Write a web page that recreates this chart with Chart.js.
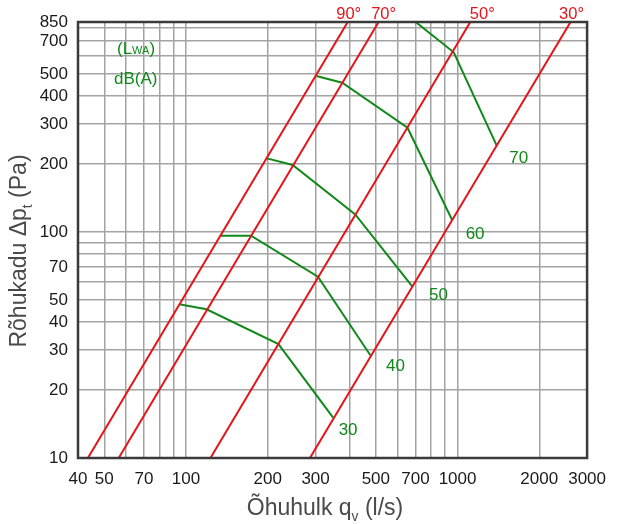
<!DOCTYPE html>
<html>
<head>
<meta charset="utf-8">
<script src="https://cdn.jsdelivr.net/npm/chart.js@4.4.1/dist/chart.umd.min.js"></script>
<style>
  body { margin: 0; background: #fff; }
  canvas { display: block; }
</style>
</head>
<body>
<canvas id="chart" width="617" height="524"></canvas>
<script>
// axis ticks (labelled) and grid values
const flowTicks = [40, 50, 70, 100, 200, 300, 500, 700, 1000, 2000, 3000];
const flowGrid = [40, 50, 60, 70, 80, 90, 100, 200, 300, 400, 500, 600, 700, 800, 900, 1000, 2000, 3000];
const pressureTicks = [10, 20, 30, 40, 50, 70, 100, 200, 300, 400, 500, 700, 850];
const pressureGrid = [10, 20, 30, 40, 50, 60, 70, 80, 90, 100, 200, 300, 400, 500, 600, 700, 800, 850];

// damper angle lines (red), end points at 10 Pa and 850 Pa
const angleNames = ['90°', '70°', '50°', '30°'];
const anglePressure = [10, 850];
const angle90Flow = [43.5, 394];
const angle70Flow = [56.5, 512];
const angle50Flow = [123, 1114];
const angle30Flow = [286, 2607];

// sound power lines (green), dB(A)
const noiseNames = ['30', '40', '50', '60', '70'];
const noise30Flow = [94.4, 119, 219, 348];
const noise30Pressure = [47.9, 45.5, 31.9, 15.1];
const noise40Flow = [134, 173.5, 306, 478];
const noise40Pressure = [96.3, 96.3, 63.4, 28.4];
const noise50Flow = [198.5, 247, 420, 682];
const noise50Pressure = [211.8, 197.9, 119.7, 57.3];
const noise60Flow = [302, 376, 654, 955];
const noise60Pressure = [490, 457.7, 289.3, 113];
const noise70Flow = [701, 968, 1394];
const noise70Pressure = [850, 624, 241];

const RED = '#e4141b';
const GREEN = '#11891a';
const FONT = "'Liberation Sans', Arial, sans-serif";

function toPoints(xs, ys) {
  return xs.map((x, i) => ({ x, y: ys[i] }));
}

const angleFlows = [angle90Flow, angle70Flow, angle50Flow, angle30Flow];
const noiseFlows = [noise30Flow, noise40Flow, noise50Flow, noise60Flow, noise70Flow];
const noisePressures = [noise30Pressure, noise40Pressure, noise50Pressure, noise60Pressure, noise70Pressure];

const datasets = [];
angleFlows.forEach((f, i) => {
  datasets.push({ label: angleNames[i], data: toPoints(f, anglePressure), borderColor: RED });
});
noiseFlows.forEach((f, i) => {
  datasets.push({ label: noiseNames[i] + ' dB(A)', data: toPoints(f, noisePressures[i]), borderColor: GREEN });
});
datasets.forEach(d => {
  d.showLine = true;
  d.pointRadius = 0;
  d.borderWidth = 2;
  d.tension = 0;
});

// draws text pieces centred on x, some of them as subscript
function drawParts(ctx, parts, x, y, size) {
  let total = 0;
  parts.forEach(p => {
    ctx.font = (p.sub ? size * 0.6 : size) + 'px ' + FONT;
    p.w = ctx.measureText(p.t).width;
    total += p.w;
  });
  let cx = x - total / 2;
  parts.forEach(p => {
    ctx.font = (p.sub ? size * 0.6 : size) + 'px ' + FONT;
    ctx.fillText(p.t, cx, p.sub ? y + size * 0.28 : y);
    cx += p.w;
  });
}

const labelsPlugin = {
  id: 'labels',
  afterDatasetsDraw(chart) {
    const { ctx, chartArea: a, scales: { x, y } } = chart;
    ctx.save();
    // frame
    ctx.strokeStyle = '#3a3a3a';
    ctx.lineWidth = 2.5;
    ctx.strokeRect(a.left, a.top, a.right - a.left, a.bottom - a.top);

    // angle labels above the plot
    const angleShift = [1, 5, 12, 1];
    ctx.fillStyle = RED;
    ctx.textAlign = 'center';
    ctx.textBaseline = 'middle';
    ctx.font = '16.5px ' + FONT;
    angleFlows.forEach((f, i) => {
      ctx.fillText(angleNames[i], x.getPixelForValue(f[1]) + angleShift[i], 14);
    });

    // noise labels at end of each green line
    const noiseShift = [[15, 13], [25, 11], [26, 9], [23, 14], [22, 13]];
    ctx.fillStyle = GREEN;
    ctx.font = '17px ' + FONT;
    noiseFlows.forEach((f, i) => {
      const p = noisePressures[i];
      const px = x.getPixelForValue(f[f.length - 1]);
      const py = y.getPixelForValue(p[p.length - 1]);
      ctx.fillText(noiseNames[i], px + noiseShift[i][0], py + noiseShift[i][1]);
    });

    // (LWA) dB(A)
    ctx.textAlign = 'left';
    ctx.textBaseline = 'alphabetic';
    let lx = 117;
    ctx.fillText('(L', lx, 54);
    lx += ctx.measureText('(L').width;
    ctx.font = '11px ' + FONT;
    ctx.fillText('WA', lx, 54);
    lx += ctx.measureText('WA').width;
    ctx.font = '17px ' + FONT;
    ctx.fillText(')', lx, 54);
    ctx.fillText('dB(A)', 114, 84);

    // axis titles
    ctx.fillStyle = '#4a4a4a';
    drawParts(ctx, [{ t: 'Õhuhulk q' }, { t: 'v', sub: true }, { t: ' (l/s)' }], 325, 515, 23);
    ctx.translate(26, 251);
    ctx.rotate(-Math.PI / 2);
    drawParts(ctx, [{ t: 'Rõhukadu Δp' }, { t: 't', sub: true }, { t: ' (Pa)' }], 0, 0, 23);
    ctx.restore();
  }
};

const tickFont = { family: FONT, size: 17 };

new Chart(document.getElementById('chart'), {
  type: 'scatter',
  data: { datasets },
  options: {
    responsive: false,
    animation: false,
    layout: { padding: { top: 22, right: 26, left: 0, bottom: 0 } },
    plugins: { legend: { display: false }, tooltip: { enabled: false } },
    scales: {
      x: {
        type: 'logarithmic',
        min: 40,
        max: 3000,
        afterBuildTicks: s => { s.ticks = flowGrid.map(v => ({ value: v })); },
        afterFit: s => { s.height = 66; },
        ticks: {
          autoSkip: false,
          maxRotation: 0,
          padding: 11,
          color: '#1a1a1a',
          font: tickFont,
          callback: v => flowTicks.includes(v) ? String(v) : ''
        },
        grid: { color: '#a3a3a3', lineWidth: 1.5, drawTicks: false },
        border: { display: false }
      },
      y: {
        type: 'logarithmic',
        min: 10,
        max: 850,
        afterBuildTicks: s => { s.ticks = pressureGrid.map(v => ({ value: v })); },
        afterFit: s => { s.width = 78; },
        ticks: {
          autoSkip: false,
          padding: 10,
          color: '#1a1a1a',
          font: tickFont,
          callback: v => pressureTicks.includes(v) ? String(v) : ''
        },
        grid: { color: '#a3a3a3', lineWidth: 1.5, drawTicks: false },
        border: { display: false }
      }
    }
  },
  plugins: [labelsPlugin]
});
</script>
</body>
</html>
